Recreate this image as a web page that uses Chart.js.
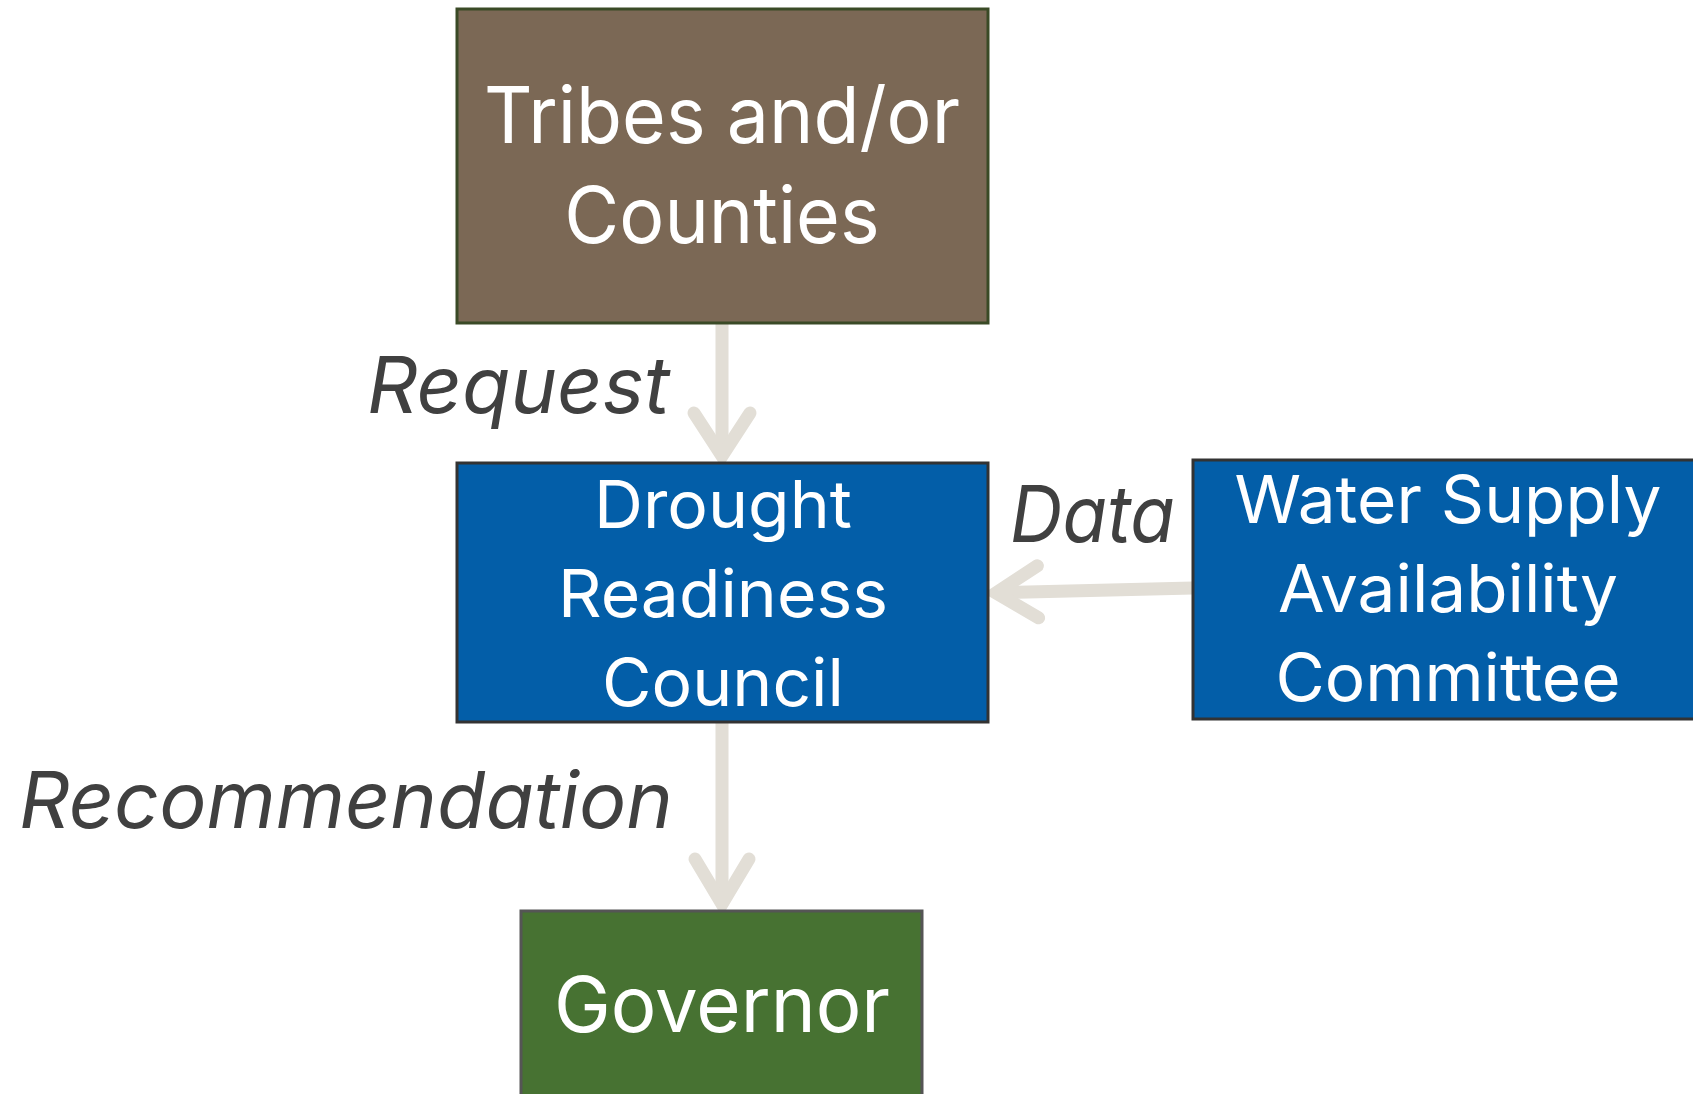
<!DOCTYPE html>
<html>
<head>
<meta charset="utf-8">
<script src="https://cdn.jsdelivr.net/npm/chart.js@4"></script>
<style>
html,body{margin:0;padding:0;background:#fff;overflow:hidden}
#wrap{width:1693px;height:1094px}
</style>
</head>
<body>
<div id="wrap"><canvas id="flow" width="1693" height="1094"></canvas></div>
<script>
// flow nodes and edges
const nodeLines = [
  ['Tribes and/or','Counties'],
  ['Drought','Readiness','Council'],
  ['Water Supply','Availability','Committee'],
  ['Governor']
];
const edgeFrom = [0, 2, 1];
const edgeTo = [1, 1, 3];
const edgeLabels = ['Request', 'Data', 'Recommendation'];

// layout in page units (x/y scales run 0..1693 / 0..1094)
const boxes = [
  {x0:457,y0:9,  x1:988, y1:323, fill:'#7B6855',stroke:'#3A4A26',size:78,base:143,gap:100,cx:722,w:476},
  {x0:457,y0:463,x1:988, y1:722, fill:'#035EA8',stroke:'#333333',size:66,base:528,gap:89, cx:723,w:330},
  {x0:1193,y0:460,x1:1710,y1:719,fill:'#035EA8',stroke:'#333333',size:66,base:523,gap:89, cx:1448,w:427},
  {x0:521,y0:911,x1:922, y1:1110,fill:'#477232',stroke:'#555555',size:77,base:1032,gap:0,cx:722,w:336}
];
const arrows = [
  {a:[722,323], b:[722,463], back:56, half:28, lx:670, ly:413, lw:303, align:'right'},
  {a:[1193,588],b:[989,593], back:55, half:26, lx:1010,ly:542, lw:165, align:'left'},
  {a:[722,722], b:[722,911], back:58, half:27, lx:19,  ly:828, lw:654, align:'left'}
];
const FONT = 'Inter, "Open Sans", sans-serif';

function fitText(ctx, txt, x, y, width, align){
  const m = ctx.measureText(txt).width;
  const sx = width / m;
  ctx.save();
  ctx.translate(x, y);
  ctx.scale(sx, 1);
  ctx.textAlign = align;
  ctx.fillText(txt, 0, 0);
  ctx.restore();
}

const flowPlugin = {
  id: 'flow',
  afterDraw(chart){
    const ctx = chart.ctx, sx = chart.scales.x, sy = chart.scales.y;
    const X = v => sx.getPixelForValue(v), Y = v => sy.getPixelForValue(v);
    ctx.save();
    ctx.textBaseline = 'alphabetic';

    // edges
    edgeFrom.forEach((f, i) => {
      const ar = arrows[i];
      const ax = X(ar.a[0]), ay = Y(ar.a[1]), bx = X(ar.b[0]), by = Y(ar.b[1]);
      const dx = bx - ax, dy = by - ay, len = Math.hypot(dx, dy);
      const ux = dx / len, uy = dy / len, px = -uy, py = ux;
      ctx.strokeStyle = '#E2DED6';
      ctx.lineWidth = 13;
      ctx.lineCap = 'butt';
      ctx.beginPath(); ctx.moveTo(ax, ay); ctx.lineTo(bx - ux * 8, by - uy * 8); ctx.stroke();
      ctx.lineCap = 'round'; ctx.lineJoin = 'miter'; ctx.miterLimit = 10;
      const back = ar.back - 6;
      ctx.beginPath();
      ctx.moveTo(bx - ux * back + px * ar.half, by - uy * back + py * ar.half);
      ctx.lineTo(bx - ux * 7, by - uy * 7);
      ctx.lineTo(bx - ux * back - px * ar.half, by - uy * back - py * ar.half);
      ctx.stroke();

      ctx.fillStyle = '#404040';
      ctx.font = 'italic 78px ' + FONT;
      fitText(ctx, edgeLabels[i], X(ar.lx), Y(ar.ly), ar.lw, ar.align);
    });

    // nodes
    nodeLines.forEach((lines, i) => {
      const b = boxes[i];
      const x0 = X(b.x0), y0 = Y(b.y0), x1 = X(b.x1), y1 = Y(b.y1);
      ctx.fillStyle = b.fill;
      ctx.fillRect(x0, y0, x1 - x0, y1 - y0);
      ctx.strokeStyle = b.stroke;
      ctx.lineWidth = 3;
      ctx.strokeRect(x0, y0, x1 - x0, y1 - y0);
      ctx.fillStyle = '#FFFFFF';
      ctx.font = b.size + 'px ' + FONT;
      const widest = Math.max(...lines.map(t => ctx.measureText(t).width));
      const k = b.w / widest;
      lines.forEach((t, j) => {
        ctx.save();
        ctx.translate(X(b.cx), Y(b.base + j * b.gap));
        ctx.scale(k, 1);
        ctx.textAlign = 'center';
        ctx.fillText(t, 0, 0);
        ctx.restore();
      });
    });
    ctx.restore();
  }
};

new Chart(document.getElementById('flow'), {
  type: 'scatter',
  data: { datasets: [{ data: [], pointRadius: 0 }] },
  options: {
    responsive: false, animation: false,
    layout: { padding: 0 },
    plugins: { legend: { display: false }, tooltip: { enabled: false } },
    scales: {
      x: { type: 'linear', min: 0, max: 1693, display: false },
      y: { type: 'linear', min: 0, max: 1094, reverse: true, display: false }
    }
  },
  plugins: [flowPlugin]
});
</script>
</body>
</html>
